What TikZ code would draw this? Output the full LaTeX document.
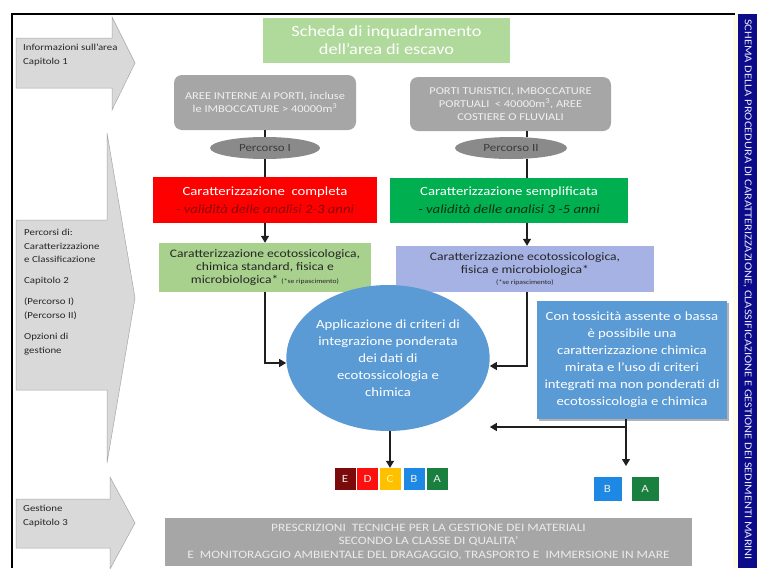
\documentclass[tikz,border=0pt]{standalone}
\usepackage{fontspec}
\setmainfont{Carlito}[FakeStretch=1.18]
\usetikzlibrary{arrows.meta,shapes.geometric}
\definecolor{arrowgray}{HTML}{D9D9D9}
\definecolor{arrowline}{HTML}{A6A6A6}
\definecolor{boxgray}{HTML}{A6A6A6}
\definecolor{lightgreen}{HTML}{A9D18E}
\definecolor{schedagreen}{HTML}{B0D99C}
\definecolor{ellgray}{HTML}{8A8A8A}
\definecolor{redbox}{HTML}{FF0000}
\definecolor{darkred}{HTML}{8A0606}
\definecolor{greenbox}{HTML}{00B050}
\definecolor{darkgreen}{HTML}{0F2F12}
\definecolor{lavender}{HTML}{A7B2E4}
\definecolor{bluefill}{HTML}{5B9BD5}
\definecolor{navy}{HTML}{0C0C8A}
\definecolor{cream}{HTML}{FFFBE6}
\definecolor{textdark}{HTML}{262626}
\definecolor{clsE}{HTML}{7B0A0A}
\definecolor{clsD}{HTML}{FF1010}
\definecolor{clsC}{HTML}{FFC000}
\definecolor{clsB}{HTML}{1E88E5}
\definecolor{clsA}{HTML}{1A8040}
\begin{document}
\begin{tikzpicture}[x=1pt,y=-1pt,
  bigarrow/.style={fill=arrowgray,draw=arrowline,line width=0.5pt},
  sidetext/.style={anchor=north west,align=left,text=textdark,inner sep=0pt,font=\fontsize{9.2}{13.5}\selectfont},
  boxbase/.style={inner sep=0pt,align=center,draw=none},
  graybox/.style={boxbase,fill=boxgray,rounded corners=8pt,text=white!94!black,font=\fontsize{10.5}{13}\selectfont},
  percorso/.style={ellipse,fill=ellgray,text=textdark!90,inner sep=0pt,minimum width=110pt,minimum height=22pt,font=\fontsize{11}{13}\selectfont},
  conn/.style={line width=1.3pt,draw=black!88},
  arr/.style={conn,-{Triangle[length=7pt,width=8pt]}},
  cls/.style={inner sep=0pt,minimum width=21pt,minimum height=22pt,text=white!92!black,font=\fontsize{11}{13}\selectfont}
]
\useasboundingbox (0,0) rectangle (757,568);
\fill[white] (0,0) rectangle (757,568);

% side bar
\fill[cream] (733,14) rectangle (738,568);
\fill[navy] (738,14) rectangle (757,568);
\node[rotate=-90,anchor=west,inner sep=0pt,text=white!92!blue,font=\fontsize{10.5}{12}\selectfont] (title) at (747.5,19) {SCHEMA DELLA PROCEDURA DI CARATTERIZZAZIONE, CLASSIFICAZIONE E GESTIONE DEI SEDIMENTI MARINI};

% frame
\draw[line width=2pt] (12,568) -- (12,14) -- (735,14);

% big side arrows
\filldraw[bigarrow] (16,38) -- (112,38) -- (112,17) -- (135,63) -- (112,110) -- (112,88) -- (16,88) -- cycle;
\filldraw[bigarrow] (16,220) -- (107,220) -- (107,133) -- (135,298) -- (107,463) -- (107,390) -- (16,390) -- cycle;
\filldraw[bigarrow] (16,499) -- (110,499) -- (110,477) -- (135,523) -- (110,569) -- (110,548) -- (16,548) -- cycle;

\node[sidetext] (info) at (23,44) {Informazioni sull’area\\Capitolo 1};
\node[sidetext] (perc) at (24,229) {Percorsi di:\\Caratterizzazione\\e Classificazione\\[7pt]Capitolo 2\\[8pt](Percorso I)\\(Percorso II)\\[8pt]Opzioni di\\gestione};
\node[sidetext] (gest) at (23,505) {Gestione\\Capitolo 3};

% top box
\node[boxbase,fill=schedagreen,minimum width=247pt,minimum height=45pt,text=white,font=\fontsize{15.5}{18}\selectfont] (scheda) at (386.5,40.5) {Scheda di inquadramento\\dell’area di escavo};

% gray boxes
\node[graybox,minimum width=182pt,minimum height=55pt] (grayL) at (265,102.5) {AREE INTERNE AI PORTI, incluse\\le IMBOCCATURE > 40000m\textsuperscript{3}};
\node[graybox,minimum width=201pt,minimum height=54pt] (grayR) at (510.5,104) {PORTI TURISTICI, IMBOCCATURE\\PORTUALI \ < 40000m\textsuperscript{3}, AREE\\COSTIERE O FLUVIALI};

% column coordinates
\coordinate (colR) at (527,0);
\coordinate (colB) at (626,0);

% ellipses
\node[percorso] (ellI) at (265,148) {Percorso I};
\node[percorso,minimum width=112pt] (ellII) at (511,148) {Percorso II};

% characterisation boxes
\node[boxbase,fill=redbox,minimum width=224pt,minimum height=46pt,font=\fontsize{12.5}{18}\selectfont] (red) at (265,200) {\textcolor{white}{Caratterizzazione \ completa}\\\textcolor{darkred}{\itshape - validità delle analisi 2-3 anni}};
\node[boxbase,fill=greenbox,minimum width=238pt,minimum height=45pt,font=\fontsize{12.5}{18}\selectfont] (greenS) at (509,200.5) {\textcolor{white}{Caratterizzazione semplificata}\\\textcolor{darkgreen}{\itshape - validità delle analisi 3 -5 anni}};

\node[boxbase,fill=lightgreen,minimum width=212pt,minimum height=49pt,text=textdark,font=\fontsize{11.5}{12.8}\selectfont] (greenL) at (265,267.5) {Caratterizzazione ecotossicologica,\\chimica standard, fisica e\\microbiologica* {\fontsize{6.5}{8}\selectfont (*se ripascimento)}};
\node[boxbase,fill=lavender,minimum width=258pt,minimum height=46pt,text=textdark,font=\fontsize{11.5}{12.8}\selectfont] (purple) at (525,269) {Caratterizzazione ecotossicologica,\\fisica e microbiologica*\\[-2pt]{\fontsize{6.5}{8}\selectfont (*se ripascimento)}};

% circle and blue box
\node[ellipse,fill=bluefill,inner sep=0pt,minimum width=158pt,minimum height=146pt,align=center,text=white,font=\fontsize{12.5}{17}\selectfont] (circ) at (388,358) {Applicazione di criteri di\\integrazione ponderata\\dei dati di\\ecotossicologia e\\chimica};
\fill[black!30] (539,303) rectangle (729,421);
\node[boxbase,fill=bluefill,minimum width=190pt,minimum height=118pt,text=white,font=\fontsize{12.5}{17}\selectfont] (bluebox) at (632,360) {Con tossicità assente o bassa\\è possibile una\\caratterizzazione chimica\\mirata e l’uso di criteri\\integrati ma non ponderati di\\ecotossicologia e chimica};

% classes
\node[cls,fill=clsE] (cE) at (345,479) {E};
\node[cls,fill=clsD] (cD) at (367.5,479) {D};
\node[cls,fill=clsC,text=yellow!40!white] (cC) at (390,479) {C};
\node[cls,fill=clsB] (cB) at (414,479) {B};
\node[cls,fill=clsA] (cA) at (437,479) {A};
\node[cls,fill=clsB,minimum width=28pt,minimum height=24pt] (rB) at (607.5,489) {B};
\node[cls,fill=clsA,minimum width=27pt,minimum height=24pt] (rA) at (645,489) {A};

% bottom box
\node[boxbase,fill=boxgray,minimum width=527pt,minimum height=48pt,text=white!92!black,font=\fontsize{11.3}{13.5}\selectfont] (bottom) at (428.5,542) {PRESCRIZIONI \ TECNICHE PER LA GESTIONE DEI MATERIALI\\SECONDO LA CLASSE DI QUALITA’\\E \ MONITORAGGIO AMBIENTALE DEL DRAGAGGIO, TRASPORTO E \ IMMERSIONE IN MARE};

% connectors left column
\draw[conn] (grayL.south) -- (ellI.north);
\draw[conn] (ellI.south) -- (red.north);
\draw[arr] (red.south) -- (greenL.north);
\draw[arr] (greenL.south) |- ([yshift=-5pt]circ.west);

% connectors right column
\draw[conn] (grayR.south -| colR) -- (ellII.north -| colR);
\draw[conn] (ellII.south -| colR) -- (greenS.north -| colR);
\draw[arr] (greenS.south -| colR) -- (purple.north -| colR);
\draw[arr] (purple.south -| colR) |- ([yshift=-8pt]circ.east);

% blue box connectors
\coordinate (junc) at (626,427);
\coordinate (tipBA) at (626,466);
\draw[conn] (bluebox.south -| colB) -- (junc);
\draw[arr] (junc) -- (junc -| circ.east);
\draw[arr] (junc) -- (tipBA);

% circle to classes
\draw[arr] (circ.south -| cC.north) -- (cC.north);
\end{tikzpicture}
\end{document}
